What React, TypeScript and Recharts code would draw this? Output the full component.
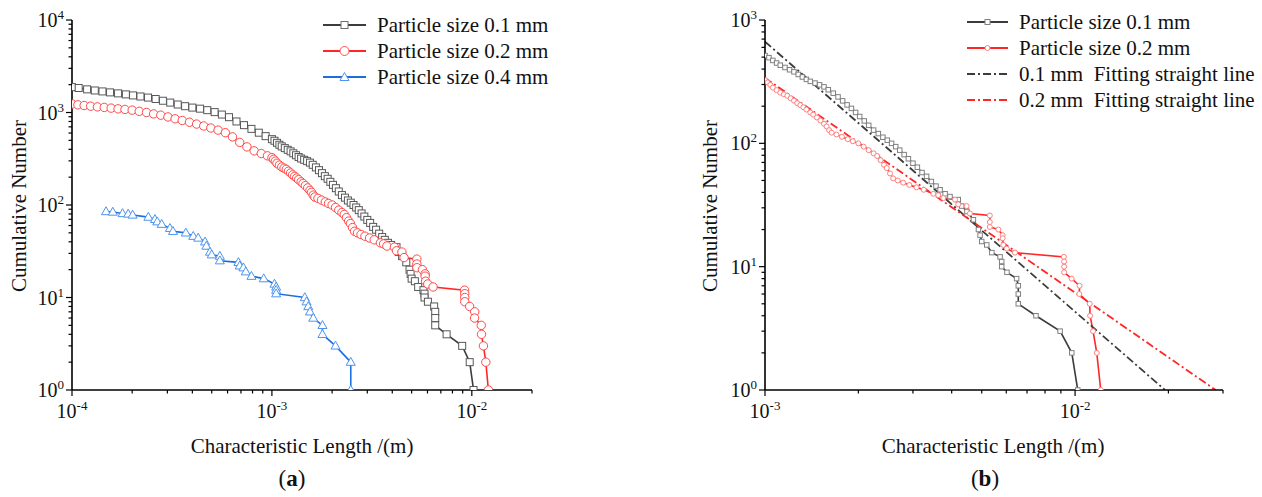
import React from 'react';
import { ComposedChart, Line, XAxis, YAxis, Legend } from 'recharts';

// ---------- data: [characteristic length (m), cumulative number] ----------
const size01: [number, number][] = [
  [1.0e-4, 1880], [1.08e-4, 1840], [1.19e-4, 1780], [1.3e-4, 1730], [1.42e-4, 1690], [1.55e-4, 1650],
  [1.7e-4, 1610], [1.86e-4, 1570], [2.02e-4, 1530], [2.2e-4, 1490], [2.4e-4, 1450], [2.62e-4, 1400],
  [2.85e-4, 1340], [3.1e-4, 1280], [3.38e-4, 1220], [3.68e-4, 1170], [4.0e-4, 1130], [4.37e-4, 1100],
  [4.75e-4, 1060], [5.17e-4, 1010], [5.62e-4, 950], [6.1e-4, 890], [6.65e-4, 800], [7.25e-4, 730],
  [7.9e-4, 665], [8.6e-4, 605], [9.3e-4, 555], [1.0e-3, 515], [1.03e-3, 495], [1.06e-3, 470],
  [1.09e-3, 448], [1.12e-3, 430], [1.16e-3, 412], [1.2e-3, 395], [1.24e-3, 380], [1.28e-3, 362],
  [1.32e-3, 345], [1.36e-3, 330], [1.4e-3, 318], [1.45e-3, 308], [1.5e-3, 298], [1.55e-3, 287],
  [1.6e-3, 272], [1.66e-3, 255], [1.72e-3, 238], [1.78e-3, 221], [1.84e-3, 205], [1.9e-3, 192],
  [1.96e-3, 178], [2.02e-3, 165], [2.09e-3, 152], [2.16e-3, 140], [2.24e-3, 128], [2.32e-3, 120],
  [2.4e-3, 112], [2.48e-3, 106], [2.56e-3, 100], [2.64e-3, 94], [2.72e-3, 88], [2.81e-3, 81],
  [2.9e-3, 75], [3.0e-3, 69], [3.1e-3, 64], [3.21e-3, 58], [3.32e-3, 54], [3.44e-3, 49],
  [3.56e-3, 45], [3.67e-3, 42], [3.81e-3, 39], [3.95e-3, 37], [4.2e-3, 35], [4.31e-3, 31],
  [4.48e-3, 28], [4.7e-3, 24], [4.88e-3, 20], [4.94e-3, 18], [5.0e-3, 16], [5.19e-3, 15],
  [5.39e-3, 13], [5.73e-3, 12], [5.8e-3, 11], [5.8e-3, 10], [6.03e-3, 9], [6.48e-3, 8],
  [6.56e-3, 7], [6.56e-3, 6], [6.56e-3, 5], [7.48e-3, 4], [8.95e-3, 3], [9.76e-3, 2], [1.02e-2, 1],
];

const size02: [number, number][] = [
  [1.0e-4, 1236], [1.07e-4, 1210], [1.15e-4, 1190], [1.24e-4, 1170], [1.34e-4, 1150], [1.45e-4, 1135],
  [1.57e-4, 1115], [1.7e-4, 1095], [1.84e-4, 1080], [2.0e-4, 1060], [2.17e-4, 1030], [2.36e-4, 1000],
  [2.56e-4, 965], [2.78e-4, 935], [3.02e-4, 895], [3.28e-4, 855], [3.56e-4, 820], [3.87e-4, 785],
  [4.2e-4, 750], [4.56e-4, 715], [4.95e-4, 680], [5.38e-4, 645], [5.85e-4, 605], [6.35e-4, 545],
  [6.9e-4, 475], [7.5e-4, 425], [8.15e-4, 385], [8.85e-4, 360], [9.5e-4, 340], [1.0e-3, 325],
  [1.02e-3, 312], [1.04e-3, 298], [1.06e-3, 283], [1.09e-3, 270], [1.12e-3, 258], [1.15e-3, 250],
  [1.18e-3, 243], [1.21e-3, 232], [1.24e-3, 222], [1.27e-3, 212], [1.3e-3, 204], [1.33e-3, 196],
  [1.36e-3, 188], [1.4e-3, 178], [1.43e-3, 171], [1.47e-3, 162], [1.51e-3, 153], [1.55e-3, 144],
  [1.58e-3, 137], [1.61e-3, 128], [1.64e-3, 122], [1.7e-3, 118], [1.77e-3, 113], [1.85e-3, 108],
  [1.92e-3, 104], [2.0e-3, 100], [2.08e-3, 94], [2.16e-3, 88], [2.24e-3, 83],
  [2.3e-3, 79], [2.36e-3, 73], [2.42e-3, 67], [2.47e-3, 63], [2.53e-3, 57], [2.59e-3, 52],
  [2.68e-3, 50], [2.79e-3, 48], [2.92e-3, 46], [3.08e-3, 44], [3.25e-3, 42], [3.49e-3, 39],
  [3.62e-3, 38], [3.76e-3, 36], [4.1e-3, 35], [4.2e-3, 32], [4.47e-3, 31], [4.58e-3, 27],
  [5.31e-3, 26], [5.31e-3, 23], [5.31e-3, 21], [5.66e-3, 20], [5.84e-3, 18], [5.84e-3, 17],
  [5.87e-3, 15], [6.02e-3, 14], [6.4e-3, 13], [9.2e-3, 12], [9.22e-3, 11], [9.22e-3, 10],
  [9.22e-3, 9], [9.75e-3, 8], [1.034e-2, 7], [1.032e-2, 6], [1.115e-2, 5], [1.118e-2, 4],
  [1.143e-2, 3], [1.175e-2, 2], [1.21e-2, 1],
];

const size04: [number, number][] = [
  [1.48e-4, 85], [1.6e-4, 84], [1.79e-4, 81], [1.91e-4, 80], [2.01e-4, 78], [2.41e-4, 74],
  [2.6e-4, 70], [2.67e-4, 66], [2.81e-4, 62], [3.09e-4, 56], [3.2e-4, 52], [3.71e-4, 50],
  [4.04e-4, 46], [4.28e-4, 44], [4.63e-4, 40], [4.7e-4, 36], [4.9e-4, 31], [5.0e-4, 29],
  [5.49e-4, 28], [5.49e-4, 25], [6.8e-4, 24], [6.9e-4, 22], [7.2e-4, 21], [7.4e-4, 19],
  [7.9e-4, 17], [9.1e-4, 16], [1.03e-3, 14], [1.05e-3, 13], [1.05e-3, 12], [1.05e-3, 11],
  [1.46e-3, 10], [1.49e-3, 9], [1.52e-3, 8], [1.55e-3, 7], [1.61e-3, 6], [1.79e-3, 5],
  [1.79e-3, 4], [2.08e-3, 3], [2.48e-3, 2], [2.48e-3, 1],
];

const fit01: [number, number][] = [[1.0e-3, 667], [1.95e-2, 1]];
const fit02: [number, number][] = [[1.0e-3, 339], [2.84e-2, 1]];

// ---------- ticks & labels ----------
const xTicksA = [1e-4, 2e-4, 3e-4, 4e-4, 5e-4, 6e-4, 7e-4, 8e-4, 9e-4, 1e-3, 2e-3, 3e-3, 4e-3, 5e-3, 6e-3, 7e-3, 8e-3, 9e-3, 1e-2, 2e-2];
const yTicksA = [1, 2, 3, 4, 5, 6, 7, 8, 9, 10, 20, 30, 40, 50, 60, 70, 80, 90, 100, 200, 300, 400, 500, 600, 700, 800, 900, 1000, 2000, 3000, 4000, 5000, 6000, 7000, 8000, 9000, 10000];
const xTicksB = [1e-3, 2e-3, 3e-3, 4e-3, 5e-3, 6e-3, 7e-3, 8e-3, 9e-3, 1e-2, 2e-2, 3e-2];
const yTicksB = [1, 2, 3, 4, 5, 6, 7, 8, 9, 10, 20, 30, 40, 50, 60, 70, 80, 90, 100, 200, 300, 400, 500, 600, 700, 800, 900, 1000];

const legendA = ['Particle size 0.1 mm', 'Particle size 0.2 mm', 'Particle size 0.4 mm'];
const legendB = ['Particle size 0.1 mm', 'Particle size 0.2 mm', '0.1 mm  Fitting straight line', '0.2 mm  Fitting straight line'];
const xTitle = 'Characteristic Length /(m)';
const yTitle = 'Cumulative Number';

const FONT = '"Liberation Serif", "Times New Roman", serif';
const GRAY = '#3c3c3c';
const RED = '#ff2626';
const BLUE = '#1a6ee0';

const rows = (a: [number, number][]) => a.map(([x, n]) => ({ x, n }));

const isMajor = (v: number) => {
  const lg = Math.log10(v);
  return Math.abs(lg - Math.round(lg)) < 1e-6;
};

const YTick = (p: any) => {
  const { x, y, payload } = p;
  const v = payload.value;
  const major = isMajor(v);
  const len = major ? 6 : 3.5;
  return (
    <g>
      <line x1={x} x2={x - len} y1={y} y2={y} stroke="#000" strokeWidth={1.2} />
      {major && (
        <text x={x - 8} y={y + 7} textAnchor="end" fontFamily={FONT} fontSize={20} fill="#111">
          10<tspan dy={-8} fontSize={13}>{Math.round(Math.log10(v))}</tspan>
        </text>
      )}
    </g>
  );
};

const XTick = (p: any) => {
  const { x, y, payload } = p;
  const v = payload.value;
  const major = isMajor(v);
  const len = major ? 6 : 3.5;
  return (
    <g>
      <line x1={x} x2={x} y1={y} y2={y + len} stroke="#000" strokeWidth={1.2} />
      {major && (
        <text x={x} y={y + 28} textAnchor="middle" fontFamily={FONT} fontSize={20} fill="#111">
          10<tspan dy={-8} fontSize={13}>{Math.round(Math.log10(v))}</tspan>
        </text>
      )}
    </g>
  );
};

const squareDot = (s: number, stroke: string) => (p: any) => {
  const { cx, cy, index } = p;
  if (cx == null || cy == null) return <g key={`sq${index}`} />;
  return <rect key={`sq${index}`} x={cx - s / 2} y={cy - s / 2} width={s} height={s} fill="#fff" stroke={stroke} strokeWidth={1} />;
};
const circleDot = (r: number, stroke: string) => (p: any) => {
  const { cx, cy, index } = p;
  if (cx == null || cy == null) return <g key={`ci${index}`} />;
  return <circle key={`ci${index}`} cx={cx} cy={cy} r={r} fill="#fff" stroke={stroke} strokeWidth={1} />;
};
const triDot = (w: number, stroke: string) => (p: any) => {
  const { cx, cy, index } = p;
  if (cx == null || cy == null) return <g key={`tr${index}`} />;
  const h = w * 0.88;
  return (
    <polygon
      key={`tr${index}`}
      points={`${cx},${cy - h * 0.6} ${cx - w / 2},${cy + h * 0.4} ${cx + w / 2},${cy + h * 0.4}`}
      fill="#fff"
      stroke={stroke}
      strokeWidth={1}
    />
  );
};

type LegItem = { label: string; color: string; dash?: string; marker?: 'sq' | 'ci' | 'tr'; mstroke?: string; msize?: number };

const LegendBox = ({ items, symW, rowH }: { items: LegItem[]; symW: number; rowH: number }) => (
  <div style={{ fontFamily: FONT, fontSize: 21, color: '#111' }}>
    {items.map((it, i) => (
      <div key={i} style={{ display: 'flex', alignItems: 'center', height: rowH }}>
        <svg width={symW} height={14} style={{ display: 'block' }}>
          <line x1={0} x2={symW} y1={7} y2={7} stroke={it.color} strokeWidth={2} strokeDasharray={it.dash} />
          {it.marker === 'sq' && (
            <rect x={symW / 2 - (it.msize || 7) / 2} y={7 - (it.msize || 7) / 2} width={it.msize || 7} height={it.msize || 7} fill="#fff" stroke={it.mstroke} />
          )}
          {it.marker === 'ci' && <circle cx={symW / 2} cy={7} r={(it.msize || 8) / 2} fill="#fff" stroke={it.mstroke} />}
          {it.marker === 'tr' && (
            <polygon points={`${symW / 2},${2.5} ${symW / 2 - 4.5},${10.5} ${symW / 2 + 4.5},${10.5}`} fill="#fff" stroke={it.mstroke} />
          )}
        </svg>
        <span style={{ marginLeft: 11, whiteSpace: 'pre', lineHeight: `${rowH}px` }}>{it.label}</span>
      </div>
    ))}
  </div>
);

const legendItemsA: LegItem[] = [
  { label: legendA[0], color: GRAY, marker: 'sq', mstroke: '#6e6e6e', msize: 7 },
  { label: legendA[1], color: RED, marker: 'ci', mstroke: '#ff5050', msize: 9 },
  { label: legendA[2], color: BLUE, marker: 'tr', mstroke: '#4d94f0' },
];
const legendItemsB: LegItem[] = [
  { label: legendB[0], color: GRAY, marker: 'sq', mstroke: '#808080', msize: 5 },
  { label: legendB[1], color: RED, marker: 'ci', mstroke: '#ff8080', msize: 5 },
  { label: legendB[2], color: GRAY, dash: '8 3 2 3' },
  { label: legendB[3], color: RED, dash: '8 3 2 3' },
];

const textBase: React.CSSProperties = { position: 'absolute', fontFamily: FONT, color: '#111', whiteSpace: 'nowrap' };

export default function App() {
  return (
    <div style={{ position: 'absolute', left: 0, top: 0, width: 1262, height: 497, background: '#fff', overflow: 'hidden' }}>
      {/* Panel (a) */}
      <div style={{ position: 'absolute', left: 0, top: 0 }}>
        <ComposedChart width={600} height={497} margin={{ top: 20, right: 68, bottom: 67, left: 12 }}>
          <XAxis
            dataKey="x"
            type="number"
            scale="log"
            domain={[1e-4, 2e-2]}
            allowDataOverflow
            ticks={xTicksA}
            interval={0}
            tick={XTick}
            tickLine={false}
            tickSize={0}
            tickMargin={0}
            height={40}
            axisLine={{ stroke: '#000', strokeWidth: 1.6 }}
          />
          <YAxis
            type="number"
            scale="log"
            domain={[1, 10000]}
            allowDataOverflow
            ticks={yTicksA}
            interval={0}
            tick={YTick}
            tickLine={false}
            tickSize={0}
            tickMargin={0}
            width={60}
            axisLine={{ stroke: '#000', strokeWidth: 1.6 }}
          />
          <Legend
            layout="vertical"
            align="center"
            verticalAlign="middle"
            wrapperStyle={{ left: 323, top: 12, width: 260 }}
            content={() => <LegendBox items={legendItemsA} symW={43} rowH={26} />}
          />
          <Line data={rows(size01)} dataKey="n" stroke={GRAY} strokeWidth={1.6} dot={squareDot(7, '#585858')} activeDot={false} isAnimationActive={false} />
          <Line data={rows(size02)} dataKey="n" stroke={RED} strokeWidth={1.6} dot={circleDot(4.2, '#ff4848')} activeDot={false} isAnimationActive={false} />
          <Line data={rows(size04)} dataKey="n" stroke={BLUE} strokeWidth={1.6} dot={triDot(9, '#4d94f0')} activeDot={false} isAnimationActive={false} />
        </ComposedChart>
      </div>

      {/* Panel (b) */}
      <div style={{ position: 'absolute', left: 640, top: 0 }}>
        <ComposedChart width={622} height={497} margin={{ top: 20, right: 39, bottom: 67, left: 65 }}>
          <XAxis
            dataKey="x"
            type="number"
            scale="log"
            domain={[1e-3, 3e-2]}
            allowDataOverflow
            ticks={xTicksB}
            interval={0}
            tick={XTick}
            tickLine={false}
            tickSize={0}
            tickMargin={0}
            height={40}
            axisLine={{ stroke: '#000', strokeWidth: 1.6 }}
          />
          <YAxis
            type="number"
            scale="log"
            domain={[1, 1000]}
            allowDataOverflow
            ticks={yTicksB}
            interval={0}
            tick={YTick}
            tickLine={false}
            tickSize={0}
            tickMargin={0}
            width={60}
            axisLine={{ stroke: '#000', strokeWidth: 1.6 }}
          />
          <Legend
            layout="vertical"
            align="center"
            verticalAlign="middle"
            wrapperStyle={{ left: 327, top: 9, width: 290 }}
            content={() => <LegendBox items={legendItemsB} symW={41} rowH={26} />}
          />
          <Line data={rows(size01)} dataKey="n" stroke={GRAY} strokeWidth={1.6} dot={squareDot(4.5, '#808080')} activeDot={false} isAnimationActive={false} />
          <Line data={rows(size02)} dataKey="n" stroke={RED} strokeWidth={1.6} dot={circleDot(2.5, '#ff8080')} activeDot={false} isAnimationActive={false} />
          <Line data={rows(fit01)} dataKey="n" stroke={GRAY} strokeWidth={1.8} strokeDasharray="8 3 2 3" dot={false} activeDot={false} isAnimationActive={false} />
          <Line data={rows(fit02)} dataKey="n" stroke={RED} strokeWidth={1.8} strokeDasharray="8 3 2 3" dot={false} activeDot={false} isAnimationActive={false} />
        </ComposedChart>
      </div>

      {/* Axis titles and panel captions */}
      <div style={{ ...textBase, left: 19, top: 206, fontSize: 21, transform: 'translate(-50%, -50%) rotate(-90deg)' }}>{yTitle}</div>
      <div style={{ ...textBase, left: 710, top: 206, fontSize: 21, transform: 'translate(-50%, -50%) rotate(-90deg)' }}>{yTitle}</div>
      <div style={{ ...textBase, left: 302, top: 446, fontSize: 21, transform: 'translate(-50%, -50%)' }}>{xTitle}</div>
      <div style={{ ...textBase, left: 993, top: 446, fontSize: 21, transform: 'translate(-50%, -50%)' }}>{xTitle}</div>
      <div style={{ ...textBase, left: 292, top: 479, fontSize: 23, transform: 'translate(-50%, -50%)' }}>
        (<b>a</b>)
      </div>
      <div style={{ ...textBase, left: 985, top: 479, fontSize: 23, transform: 'translate(-50%, -50%)' }}>
        (<b>b</b>)
      </div>
    </div>
  );
}
